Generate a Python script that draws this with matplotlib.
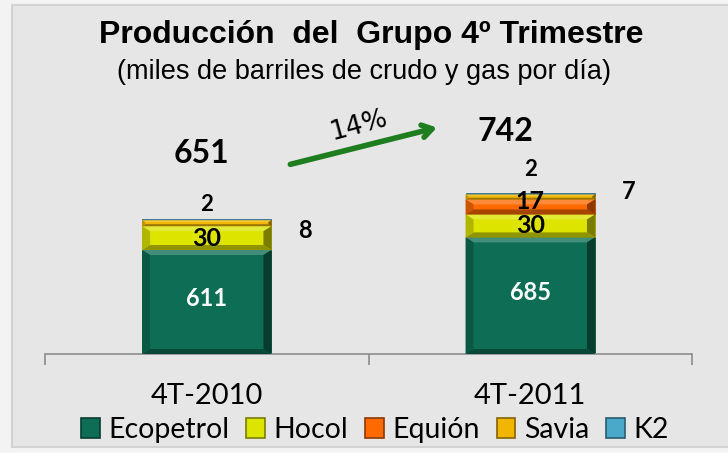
import matplotlib
matplotlib.use("Agg")
import matplotlib.pyplot as plt
import matplotlib.colors as mcolors
from matplotlib.patches import Polygon, Rectangle, Patch

categories = ['4T-2010', '4T-2011']
companies = ['Ecopetrol', 'Hocol', 'Equión', 'Savia', 'K2']

# values printed on the chart (miles de barriles por día)
ecopetrol = [611, 685]
hocol = [30, 30]
equion = [0, 17]
savia = [8, 7]
k2 = [2, 2]
totals = [651, 742]
growth_label = '14%'

# segment heights as they are drawn in the picture (small ones are exaggerated)
drawn_ecopetrol = [611, 685]
drawn_hocol = [140, 135]
drawn_equion = [0, 88]
drawn_savia = [35, 29]
drawn_k2 = [9, 9]

colors = ['#0d6e55', '#dde400', '#ff6a00', '#f2b600', '#4aa8c8']

PX_Y = 254 / 1492   # px per data unit
PX_X = 323.5        # px per category


def shade(c, f):
    r, g, b = mcolors.to_rgb(c)
    if f > 0:
        return (r + (1 - r) * f, g + (1 - g) * f, b + (1 - b) * f)
    return (r * (1 + f), g * (1 + f), b * (1 + f))


def bevel_bar(ax, x, bottom, height, width, color):
    if height <= 0:
        return
    x0, x1 = x - width / 2, x + width / 2
    y0, y1 = bottom, bottom + height
    ax.add_patch(Rectangle((x0, y0), width, height, facecolor=color,
                           edgecolor=shade(color, -0.35), linewidth=0.6, zorder=2))
    by = min(5 / PX_Y, height / 3)
    bx = min(9 / PX_X, by * PX_Y / PX_X * 1.6)
    if height * PX_Y < 4:
        return
    ax.add_patch(Polygon([(x0, y1), (x1, y1), (x1 - bx, y1 - by), (x0 + bx, y1 - by)],
                         closed=True, facecolor=shade(color, 0.22), linewidth=0, zorder=3))
    ax.add_patch(Polygon([(x0, y0), (x1, y0), (x1 - bx, y0 + by), (x0 + bx, y0 + by)],
                         closed=True, facecolor=shade(color, -0.35), linewidth=0, zorder=3))
    ax.add_patch(Polygon([(x0, y0), (x0 + bx, y0 + by), (x0 + bx, y1 - by), (x0, y1)],
                         closed=True, facecolor=shade(color, -0.2), linewidth=0, zorder=3))
    ax.add_patch(Polygon([(x1, y0), (x1 - bx, y0 + by), (x1 - bx, y1 - by), (x1, y1)],
                         closed=True, facecolor=shade(color, -0.45), linewidth=0, zorder=3))


fig = plt.figure(figsize=(7.28, 4.53), dpi=100)
fig.patch.set_facecolor('#f3f3f3')
fig.add_artist(Rectangle((12 / 728, 6 / 453), 1, 442 / 453, transform=fig.transFigure,
                         facecolor='#e6e6e6', edgecolor='#d2d2d2', linewidth=1.5, zorder=0))

ax = fig.add_axes([45 / 728, 99 / 453, 647 / 728, 254 / 453])
ax.set_facecolor('none')
ax.set_xlim(-0.5, 1.5)
ax.set_ylim(0, 1492)

series = [drawn_ecopetrol, drawn_hocol, drawn_equion, drawn_savia, drawn_k2]
width = 0.4
xs = range(len(categories))
num_font = dict(fontweight='bold', family='Lato')
for i in xs:
    bottom = 0
    for s, col in zip(series, colors):
        bevel_bar(ax, i, bottom, s[i], width, col)
        bottom += s[i]

    eco_top = drawn_ecopetrol[i]
    hoc_top = eco_top + drawn_hocol[i]
    equ_top = hoc_top + drawn_equion[i]
    sav_top = equ_top + drawn_savia[i]
    top = sav_top + drawn_k2[i]

    ax.text(i, eco_top / 2 + 20, str(ecopetrol[i]), ha='center', va='center',
            color='white', fontsize=17, zorder=5, **num_font)
    ax.text(i, (eco_top + hoc_top) / 2, str(hocol[i]), ha='center', va='center',
            fontsize=18, zorder=5, **num_font)
    if equion[i]:
        ax.text(i, (hoc_top + equ_top) / 2 + 30, str(equion[i]), ha='center', va='center',
                fontsize=18, zorder=5, **num_font)
    ax.annotate(str(savia[i]), (i + width / 2, (equ_top + sav_top) / 2),
                xytext=(24, -5 + 9 * i), textcoords='offset points', ha='center', va='center',
                fontsize=17, **num_font)
    ax.annotate(str(k2[i]), (i, top), xytext=(0, 10 + 7 * i),
                textcoords='offset points', ha='center', va='center',
                fontsize=16, **num_font)
    ax.annotate(str(totals[i]), (i, top), xytext=(-14 * i - 4, 47 - 3 * i),
                textcoords='offset points', ha='center', va='center',
                fontsize=23, **num_font)

# growth arrow between the two totals
ax.annotate('', xy=(0.72, 1334), xytext=(0.25, 1110),
            arrowprops=dict(arrowstyle='->,head_length=0.7,head_width=0.45',
                            color='#1e7d1e', lw=4))
ax.text(0.47, 1340, growth_label, rotation=15, ha='center', va='center',
        fontsize=19, family='DejaVu Sans', color='black')

for sp in ['top', 'right', 'left']:
    ax.spines[sp].set_visible(False)
ax.spines['bottom'].set_color('#8c8c8c')
ax.spines['bottom'].set_linewidth(1.2)
ax.set_yticks([])
ax.set_xticks([-0.5, 0.5, 1.5])
ax.set_xticklabels([])
ax.tick_params(axis='x', which='major', length=8, width=1.2, color='#8c8c8c', direction='out')
ax.set_xticks(list(xs), minor=True)
ax.set_xticklabels(categories, minor=True, fontsize=21, family='Lato')
ax.tick_params(axis='x', which='minor', length=0, pad=21)

fig.text(0.51, 1 - 35 / 453, 'Producción  del  Grupo 4º Trimestre', ha='center', va='center',
         fontsize=23, fontweight='bold', family='Liberation Sans')
fig.text(0.50, 1 - 72 / 453, '(miles de barriles de crudo y gas por día)', ha='center',
         va='center', fontsize=19.5, family='Liberation Sans')

handles = [Patch(facecolor=c, edgecolor=shade(c, -0.45), linewidth=1.2) for c in colors]
fig.legend(handles, companies, loc='center', bbox_to_anchor=(0.515, 23 / 453), ncol=5,
           frameon=False, prop={'family': 'Lato', 'size': 20.5}, handlelength=0.65,
           handleheight=0.65, handletextpad=0.3, columnspacing=0.6)

fig.savefig('out.png', dpi=100, facecolor=fig.get_facecolor())
